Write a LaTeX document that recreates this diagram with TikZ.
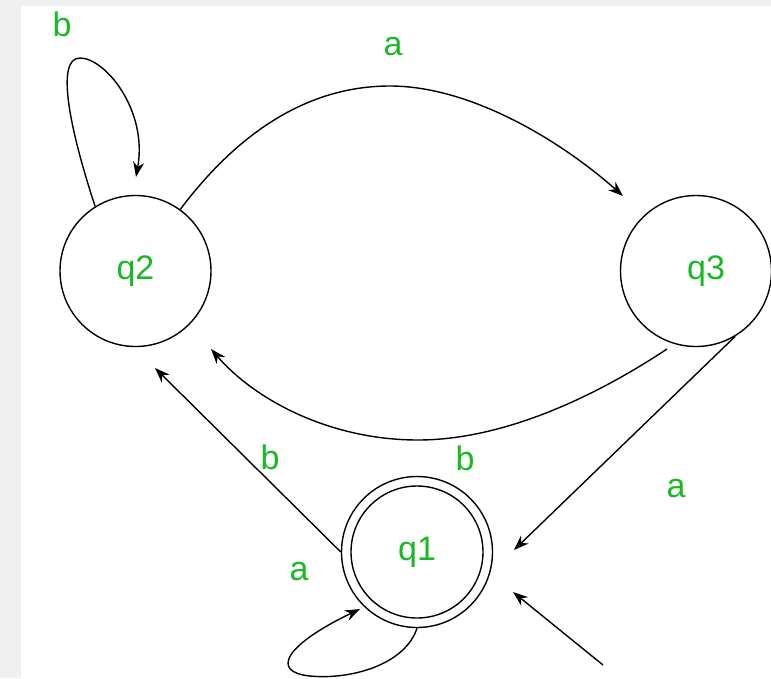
\documentclass[tikz,border=0pt]{standalone}
\usepackage{fontspec}
\setmainfont{Liberation Sans}
\usetikzlibrary{arrows.meta}
\definecolor{lbl}{RGB}{25,185,35}
\definecolor{framegray}{RGB}{240,240,240}
\begin{document}
\begin{tikzpicture}[x=1pt,y=-1pt,
  state/.style={circle,draw,line width=1.4pt,minimum size=151pt,inner sep=0pt,text=lbl,font=\fontsize{34}{40}\selectfont},
  lab/.style={text=lbl,font=\fontsize{34}{40}\selectfont,anchor=base,inner sep=0pt},
  edge/.style={line width=1.4pt,-{Stealth[length=15pt,width=11pt]}}]
\useasboundingbox (0,0) rectangle (771,678);
\fill[framegray] (0,0) rectangle (771,678);
\fill[white] (21,6) rectangle (771,678);

% states
\node[state] (q2) at (135.5,271) {q2};
\node[state] (q3) at (696,271) {\hspace*{20pt}q3};
\node[state] (q1) at (417,552) {q1};
\draw[line width=1.4pt] (q1.center) circle[radius=66pt];

% free ends
\coordinate (t22) at (136,177);
\coordinate (t23) at (623,196);
\coordinate (s32) at (667,349);
\coordinate (t32) at (211,349);
\coordinate (t12) at (155,368);
\coordinate (t31) at (514,550);
\coordinate (i0) at (603,665);
\coordinate (i1) at (513,592);
\coordinate (t11) at (360,609);

% connectors
\draw[edge] (q2.122) .. controls (70,130) and (55,58) .. (80,58) .. controls (105,58) and (148,110) .. (t22);
\draw[edge] (q2.54) .. controls (240,130) and (310,86) .. (390,86) .. controls (470,86) and (560,140) .. (t23);
\draw[edge] (s32) .. controls (590,400) and (500,440) .. (418,440) .. controls (330,440) and (255,400) .. (t32);
\draw[edge] (q1.west) -- (t12);
\draw[edge] (q3.-59) -- (t31);
\draw[edge] (i0) -- (i1);
\draw[edge] (q1.-90) .. controls (405,665) and (350,680) .. (310,676) .. controls (270,672) and (285,645) .. (t11);

% labels
\node[lab] (lb1) at (62,36) {b};
\node[lab] (la1) at (393,55) {a};
\node[lab] (lb2) at (270,469) {b};
\node[lab] (lb3) at (465,470) {b};
\node[lab] (la2) at (676,497) {a};
\node[lab] (la3) at (299,580) {a};
\end{tikzpicture}
\end{document}
